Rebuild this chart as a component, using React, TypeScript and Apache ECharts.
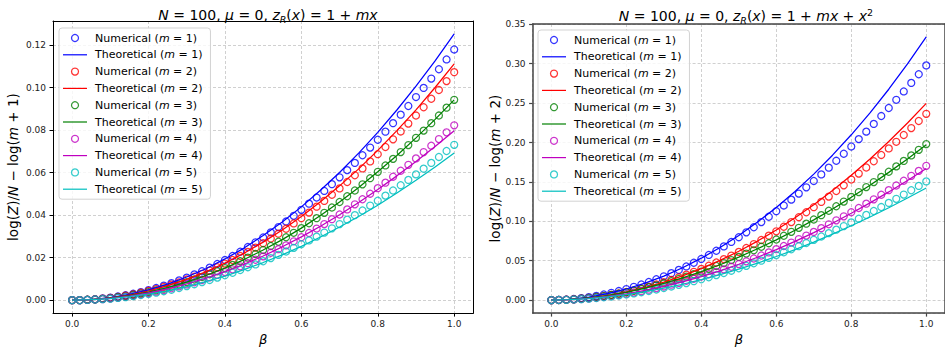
import React, { useEffect, useRef } from "react";
import * as echarts from "echarts";

const BETA_NUM = [0, 0.02, 0.04, 0.06, 0.08, 0.1, 0.12, 0.14, 0.16, 0.18, 0.2, 0.22, 0.24, 0.26, 0.28, 0.3, 0.32, 0.34, 0.36, 0.38, 0.4, 0.42, 0.44, 0.46, 0.48, 0.5, 0.52, 0.54, 0.56, 0.58, 0.6, 0.62, 0.64, 0.66, 0.68, 0.7, 0.72, 0.74, 0.76, 0.78, 0.8, 0.82, 0.84, 0.86, 0.88, 0.9, 0.92, 0.94, 0.96, 0.98, 1.0];
const BETA_THEO = [0, 0.05, 0.1, 0.15, 0.2, 0.25, 0.3, 0.35, 0.4, 0.45, 0.5, 0.55, 0.6, 0.65, 0.7, 0.75, 0.8, 0.85, 0.9, 0.95, 1.0];

// Left panel: z_R(x) = 1 + m x
const NUM_L1 = [0, 0.0000, 0.0002, 0.0004, 0.0008, 0.0012, 0.0017, 0.0023, 0.0030, 0.0038, 0.0047, 0.0057, 0.0068, 0.0080, 0.0093, 0.0106, 0.0121, 0.0136, 0.0153, 0.0170, 0.0189, 0.0208, 0.0228, 0.0250, 0.0272, 0.0295, 0.0319, 0.0344, 0.0370, 0.0397, 0.0425, 0.0454, 0.0483, 0.0514, 0.0546, 0.0578, 0.0612, 0.0646, 0.0682, 0.0718, 0.0755, 0.0793, 0.0833, 0.0873, 0.0914, 0.0956, 0.0999, 0.1043, 0.1087, 0.1133, 0.1180];
const NUM_L2 = [0, 0.0000, 0.0002, 0.0004, 0.0007, 0.0011, 0.0015, 0.0021, 0.0027, 0.0035, 0.0043, 0.0052, 0.0062, 0.0073, 0.0084, 0.0097, 0.0110, 0.0124, 0.0139, 0.0155, 0.0172, 0.0189, 0.0208, 0.0227, 0.0247, 0.0268, 0.0290, 0.0313, 0.0336, 0.0361, 0.0386, 0.0412, 0.0440, 0.0467, 0.0496, 0.0526, 0.0556, 0.0588, 0.0620, 0.0653, 0.0687, 0.0721, 0.0757, 0.0794, 0.0831, 0.0869, 0.0908, 0.0948, 0.0989, 0.1031, 0.1073];
const NUM_L3 = [0, 0.0000, 0.0002, 0.0003, 0.0006, 0.0009, 0.0014, 0.0018, 0.0024, 0.0031, 0.0038, 0.0046, 0.0054, 0.0064, 0.0074, 0.0085, 0.0097, 0.0109, 0.0122, 0.0136, 0.0151, 0.0166, 0.0183, 0.0200, 0.0217, 0.0236, 0.0255, 0.0275, 0.0296, 0.0317, 0.0339, 0.0362, 0.0386, 0.0411, 0.0436, 0.0462, 0.0489, 0.0516, 0.0545, 0.0574, 0.0604, 0.0634, 0.0665, 0.0697, 0.0730, 0.0764, 0.0798, 0.0833, 0.0869, 0.0906, 0.0943];
const NUM_L4 = [0, 0.0000, 0.0001, 0.0003, 0.0005, 0.0008, 0.0012, 0.0016, 0.0021, 0.0027, 0.0033, 0.0040, 0.0047, 0.0056, 0.0065, 0.0074, 0.0084, 0.0095, 0.0107, 0.0119, 0.0132, 0.0145, 0.0159, 0.0174, 0.0190, 0.0206, 0.0223, 0.0240, 0.0258, 0.0277, 0.0296, 0.0316, 0.0337, 0.0358, 0.0381, 0.0403, 0.0427, 0.0451, 0.0475, 0.0501, 0.0527, 0.0553, 0.0581, 0.0609, 0.0637, 0.0667, 0.0697, 0.0727, 0.0758, 0.0790, 0.0823];
const NUM_L5 = [0, 0.0000, 0.0001, 0.0003, 0.0005, 0.0007, 0.0011, 0.0014, 0.0019, 0.0024, 0.0029, 0.0035, 0.0042, 0.0049, 0.0057, 0.0066, 0.0075, 0.0085, 0.0095, 0.0106, 0.0117, 0.0129, 0.0142, 0.0155, 0.0168, 0.0183, 0.0198, 0.0213, 0.0229, 0.0246, 0.0263, 0.0281, 0.0299, 0.0318, 0.0338, 0.0358, 0.0379, 0.0400, 0.0422, 0.0445, 0.0468, 0.0492, 0.0516, 0.0541, 0.0566, 0.0592, 0.0619, 0.0646, 0.0674, 0.0702, 0.0731];
const THEO_L1 = [0, 0.0003, 0.0012, 0.0027, 0.0048, 0.0075, 0.0109, 0.0148, 0.0194, 0.0245, 0.0304, 0.0368, 0.0439, 0.0517, 0.0601, 0.0692, 0.0790, 0.0895, 0.1007, 0.1126, 0.1253];
const THEO_L2 = [0, 0.0003, 0.0011, 0.0024, 0.0043, 0.0068, 0.0098, 0.0133, 0.0174, 0.0221, 0.0273, 0.0330, 0.0394, 0.0463, 0.0538, 0.0618, 0.0705, 0.0798, 0.0896, 0.1001, 0.1112];
const THEO_L3 = [0, 0.0002, 0.0009, 0.0021, 0.0038, 0.0059, 0.0085, 0.0116, 0.0151, 0.0191, 0.0236, 0.0285, 0.0339, 0.0398, 0.0462, 0.0530, 0.0604, 0.0681, 0.0764, 0.0851, 0.0943];
const THEO_L4 = [0, 0.0002, 0.0008, 0.0019, 0.0034, 0.0053, 0.0076, 0.0103, 0.0134, 0.0169, 0.0208, 0.0251, 0.0298, 0.0348, 0.0402, 0.0460, 0.0521, 0.0585, 0.0653, 0.0723, 0.0797];
const THEO_L5 = [0, 0.0002, 0.0007, 0.0016, 0.0028, 0.0044, 0.0064, 0.0087, 0.0113, 0.0144, 0.0177, 0.0213, 0.0253, 0.0297, 0.0344, 0.0394, 0.0447, 0.0504, 0.0564, 0.0627, 0.0693];

// Right panel: z_R(x) = 1 + m x + x^2
const NUM_R1 = [0, 0.0002, 0.0007, 0.0014, 0.0025, 0.0037, 0.0053, 0.0071, 0.0092, 0.0115, 0.0140, 0.0168, 0.0198, 0.0230, 0.0265, 0.0302, 0.0342, 0.0383, 0.0427, 0.0474, 0.0522, 0.0573, 0.0626, 0.0681, 0.0738, 0.0798, 0.0860, 0.0924, 0.0990, 0.1058, 0.1128, 0.1201, 0.1275, 0.1352, 0.1431, 0.1512, 0.1595, 0.1681, 0.1768, 0.1857, 0.1949, 0.2043, 0.2138, 0.2236, 0.2336, 0.2438, 0.2542, 0.2648, 0.2756, 0.2866, 0.2978];
const NUM_R2 = [0, 0.0001, 0.0005, 0.0010, 0.0017, 0.0027, 0.0038, 0.0051, 0.0067, 0.0084, 0.0103, 0.0124, 0.0147, 0.0171, 0.0198, 0.0226, 0.0257, 0.0289, 0.0323, 0.0359, 0.0396, 0.0436, 0.0477, 0.0520, 0.0565, 0.0612, 0.0661, 0.0711, 0.0763, 0.0818, 0.0873, 0.0931, 0.0990, 0.1052, 0.1115, 0.1179, 0.1246, 0.1314, 0.1384, 0.1456, 0.1530, 0.1606, 0.1683, 0.1762, 0.1842, 0.1925, 0.2009, 0.2095, 0.2183, 0.2273, 0.2364];
const NUM_R3 = [0, 0.0001, 0.0005, 0.0011, 0.0018, 0.0027, 0.0039, 0.0051, 0.0066, 0.0082, 0.0100, 0.0119, 0.0140, 0.0163, 0.0187, 0.0212, 0.0239, 0.0268, 0.0298, 0.0329, 0.0362, 0.0397, 0.0433, 0.0470, 0.0508, 0.0548, 0.0590, 0.0632, 0.0677, 0.0722, 0.0769, 0.0817, 0.0866, 0.0917, 0.0970, 0.1023, 0.1078, 0.1134, 0.1191, 0.1250, 0.1310, 0.1371, 0.1434, 0.1498, 0.1563, 0.1629, 0.1697, 0.1766, 0.1836, 0.1907, 0.1980];
const NUM_R4 = [0, 0.0001, 0.0004, 0.0008, 0.0014, 0.0021, 0.0030, 0.0041, 0.0052, 0.0066, 0.0080, 0.0096, 0.0113, 0.0132, 0.0152, 0.0173, 0.0196, 0.0219, 0.0245, 0.0271, 0.0299, 0.0328, 0.0358, 0.0390, 0.0423, 0.0457, 0.0492, 0.0528, 0.0566, 0.0605, 0.0646, 0.0687, 0.0730, 0.0774, 0.0819, 0.0865, 0.0913, 0.0962, 0.1012, 0.1063, 0.1115, 0.1169, 0.1224, 0.1279, 0.1337, 0.1395, 0.1454, 0.1515, 0.1577, 0.1640, 0.1704];
const NUM_R5 = [0, 0.0001, 0.0003, 0.0007, 0.0012, 0.0019, 0.0027, 0.0036, 0.0046, 0.0058, 0.0071, 0.0085, 0.0100, 0.0116, 0.0134, 0.0153, 0.0173, 0.0194, 0.0216, 0.0240, 0.0264, 0.0290, 0.0317, 0.0344, 0.0373, 0.0404, 0.0435, 0.0467, 0.0500, 0.0535, 0.0571, 0.0607, 0.0645, 0.0684, 0.0724, 0.0765, 0.0807, 0.0850, 0.0894, 0.0939, 0.0986, 0.1033, 0.1081, 0.1131, 0.1181, 0.1233, 0.1285, 0.1339, 0.1394, 0.1449, 0.1506];
const THEO_R1 = [0, 0.0010, 0.0038, 0.0081, 0.0141, 0.0215, 0.0305, 0.0411, 0.0532, 0.0668, 0.0821, 0.0990, 0.1175, 0.1378, 0.1599, 0.1839, 0.2098, 0.2376, 0.2676, 0.2997, 0.3341];
const THEO_R2 = [0, 0.0007, 0.0027, 0.0059, 0.0103, 0.0159, 0.0227, 0.0308, 0.0400, 0.0504, 0.0620, 0.0749, 0.0890, 0.1044, 0.1211, 0.1391, 0.1584, 0.1791, 0.2012, 0.2247, 0.2496];
const THEO_R3 = [0, 0.0008, 0.0027, 0.0058, 0.0099, 0.0151, 0.0211, 0.0281, 0.0361, 0.0449, 0.0546, 0.0651, 0.0765, 0.0887, 0.1018, 0.1157, 0.1304, 0.1458, 0.1621, 0.1792, 0.1970];
const THEO_R4 = [0, 0.0006, 0.0021, 0.0046, 0.0080, 0.0122, 0.0173, 0.0231, 0.0298, 0.0372, 0.0455, 0.0544, 0.0641, 0.0746, 0.0857, 0.0976, 0.1102, 0.1234, 0.1373, 0.1519, 0.1671];
const THEO_R5 = [0, 0.0005, 0.0019, 0.0041, 0.0070, 0.0107, 0.0151, 0.0201, 0.0259, 0.0323, 0.0393, 0.0470, 0.0553, 0.0641, 0.0736, 0.0837, 0.0943, 0.1055, 0.1172, 0.1295, 0.1423];

const M_VALUES = [1, 2, 3, 4, 5];
const COLORS = ["#0000ff", "#ff0000", "#008000", "#bf00bf", "#00bfbf"];
const PANELS = [
  { num: [NUM_L1, NUM_L2, NUM_L3, NUM_L4, NUM_L5], theo: [THEO_L1, THEO_L2, THEO_L3, THEO_L4, THEO_L5] },
  { num: [NUM_R1, NUM_R2, NUM_R3, NUM_R4, NUM_R5], theo: [THEO_R1, THEO_R2, THEO_R3, THEO_R4, THEO_R5] },
];

const FONT = "DejaVu Sans";
const LINE_ICON = "path://M0,0L40,0L40,2L0,2Z";

export default function App() {
  const ref = useRef<HTMLDivElement>(null);
  useEffect(() => {
    if (!ref.current) return;
    const chart = echarts.init(ref.current, null, { renderer: "svg" });

    const series: any[] = [];
    PANELS.forEach((panel, p) => {
      M_VALUES.forEach((m, k) => {
        series.push({
          name: `Numerical (m = ${m})`,
          type: "scatter",
          xAxisIndex: p,
          yAxisIndex: p,
          data: BETA_NUM.map((b, i) => [b, panel.num[k][i]]),
          symbol: "circle",
          symbolSize: 7,
          itemStyle: { color: "rgba(255,255,255,0)", borderColor: COLORS[k], borderWidth: 1.25 },
          emphasis: { disabled: true },
          silent: true,
        });
        series.push({
          name: `Theoretical (m = ${m})`,
          type: "line",
          xAxisIndex: p,
          yAxisIndex: p,
          data: BETA_THEO.map((b, i) => [b, panel.theo[k][i]]),
          symbol: "none",
          lineStyle: { color: COLORS[k], width: 1.25 },
          itemStyle: { color: COLORS[k] },
          emphasis: { disabled: true },
          silent: true,
        });
      });
    });

    const legendData: any[] = [];
    M_VALUES.forEach((m, k) => {
      legendData.push({ name: `Numerical (m = ${m})` });
      legendData.push({
        name: `Theoretical (m = ${m})`,
        icon: LINE_ICON,
        itemStyle: { color: COLORS[k], borderWidth: 0 },
      });
    });

    const legendCommon = {
      orient: "vertical",
      data: legendData,
      itemWidth: 24,
      itemHeight: 7,
      itemGap: 2.8,
      selectedMode: false,
      backgroundColor: "rgba(255,255,255,0.8)",
      borderColor: "#d3d3d3",
      borderWidth: 1,
      borderRadius: 3,
      padding: [3, 8, 3, 4],
      itemStyle: { borderWidth: 1.25 },
      formatter: (name: string) => name.replace("m = ", "{i|m} = "),
      textStyle: {
        fontFamily: FONT,
        fontSize: 11,
        color: "#000",
        lineHeight: 14,
        padding: [0, 0, 0, 3],
        rich: { i: { fontFamily: FONT, fontSize: 11, fontStyle: "italic", lineHeight: 14, color: "#000" } },
      },
    };

    const titleRich = {
      i: { fontFamily: FONT, fontSize: 14, fontStyle: "italic", color: "#000", lineHeight: 18 },
      sub: { fontFamily: FONT, fontSize: 9.5, fontStyle: "italic", color: "#000", verticalAlign: "bottom", lineHeight: 12 },
      sup: { fontFamily: FONT, fontSize: 9.5, color: "#000", verticalAlign: "top", lineHeight: 12 },
    };

    const gridLine = { show: true, lineStyle: { color: "#c4c4c4", width: 0.8, type: [3, 2] } };

    const makeX = (grid: number, spine: string, sw: number) => ({
      type: "value",
      gridIndex: grid,
      position: "bottom",
      min: -0.05,
      max: 1.05,
      splitNumber: 5,
      name: "β",
      nameLocation: "middle",
      nameGap: 15,
      nameTextStyle: { fontFamily: FONT, fontSize: 13, fontStyle: "italic", color: "#000" },
      axisLine: { show: true, onZero: false, lineStyle: { color: spine, width: sw } },
      axisTick: { show: true, inside: false, length: 3.5, lineStyle: { color: spine, width: sw > 1 ? 1.2 : 1 } },
      axisLabel: {
        showMinLabel: false,
        showMaxLabel: false,
        margin: 6,
        fontFamily: FONT,
        fontSize: 9,
        color: "#222",
        formatter: (v: number) => v.toFixed(1),
      },
      splitLine: gridLine,
    });

    const makeXTop = (grid: number, spine: string, sw: number) => ({
      type: "value",
      gridIndex: grid,
      position: "top",
      min: -0.05,
      max: 1.05,
      axisLine: { show: true, onZero: false, lineStyle: { color: spine, width: sw } },
      axisTick: { show: false },
      axisLabel: { show: false },
      splitLine: { show: false },
    });

    const makeY = (grid: number, min: number, max: number, label: string, spine: string, sw: number, gap: number) => ({
      type: "value",
      gridIndex: grid,
      position: "left",
      min,
      max,
      splitNumber: 7,
      name: label,
      nameLocation: "middle",
      nameRotate: 90,
      nameGap: gap,
      nameTextStyle: {
        fontFamily: FONT,
        fontSize: 13.5,
        color: "#000",
        rich: { i: { fontFamily: FONT, fontSize: 13.5, fontStyle: "italic", color: "#000" } },
      },
      axisLine: { show: true, onZero: false, lineStyle: { color: spine, width: sw } },
      axisTick: { show: true, inside: false, length: 3.5, lineStyle: { color: spine, width: sw > 1 ? 1.2 : 1 } },
      axisLabel: {
        showMinLabel: false,
        showMaxLabel: false,
        margin: 7,
        fontFamily: FONT,
        fontSize: 9,
        color: "#222",
        formatter: (v: number) => v.toFixed(2),
      },
      splitLine: gridLine,
    });

    const makeYRight = (grid: number, min: number, max: number, spine: string, sw: number) => ({
      type: "value",
      gridIndex: grid,
      position: "right",
      min,
      max,
      axisLine: { show: true, onZero: false, lineStyle: { color: spine, width: sw } },
      axisTick: { show: false },
      axisLabel: { show: false },
      splitLine: { show: false },
    });

    const option: any = {
      animation: false,
      backgroundColor: "#ffffff",
      title: [
        {
          text: "{i|N} = 100, {i|μ} = 0, {i|z}{sub|R}({i|x}) = 1 + {i|mx}",
          left: 263,
          top: 1,
          textAlign: "center",
          textStyle: { fontFamily: FONT, fontSize: 14, fontWeight: "normal", color: "#000", lineHeight: 18, rich: titleRich },
        },
        {
          text: "{i|N} = 100, {i|μ} = 0, {i|z}{sub|R}({i|x}) = 1 + {i|mx} + {i|x}{sup|2}",
          left: 741,
          top: 2,
          textAlign: "center",
          textStyle: { fontFamily: FONT, fontSize: 14, fontWeight: "normal", color: "#000", lineHeight: 18, rich: titleRich },
        },
      ],
      legend: [
        { ...legendCommon, left: 59, top: 28 },
        { ...legendCommon, left: 538, top: 30 },
      ],
      grid: [
        { left: 53, top: 21, width: 420.3, height: 299, show: false },
        { left: 532.6, top: 24, width: 420.4, height: 296, show: false },
      ],
      xAxis: [makeX(0, "#000", 1), makeX(1, "#444", 1.5), makeXTop(0, "#000", 1), makeXTop(1, "#444", 1.5)],
      yAxis: [
        makeY(0, -0.0061, 0.1314, "log({i|Z})/{i|N} − log({i|m} + 1)", "#000", 1, 33),
        makeY(1, -0.0165, 0.3504, "log({i|Z})/{i|N} − log({i|m} + 2)", "#444", 1.5, 31),
        makeYRight(0, -0.0061, 0.1314, "#000", 1),
        makeYRight(1, -0.0165, 0.3504, "#444", 1.5),
      ],
      series,
    };

    chart.setOption(option);
    return () => chart.dispose();
  }, []);

  return (
    <div
      ref={ref}
      style={{ position: "absolute", left: 0, top: 0, width: 945, height: 351, background: "#fff" }}
    />
  );
}
